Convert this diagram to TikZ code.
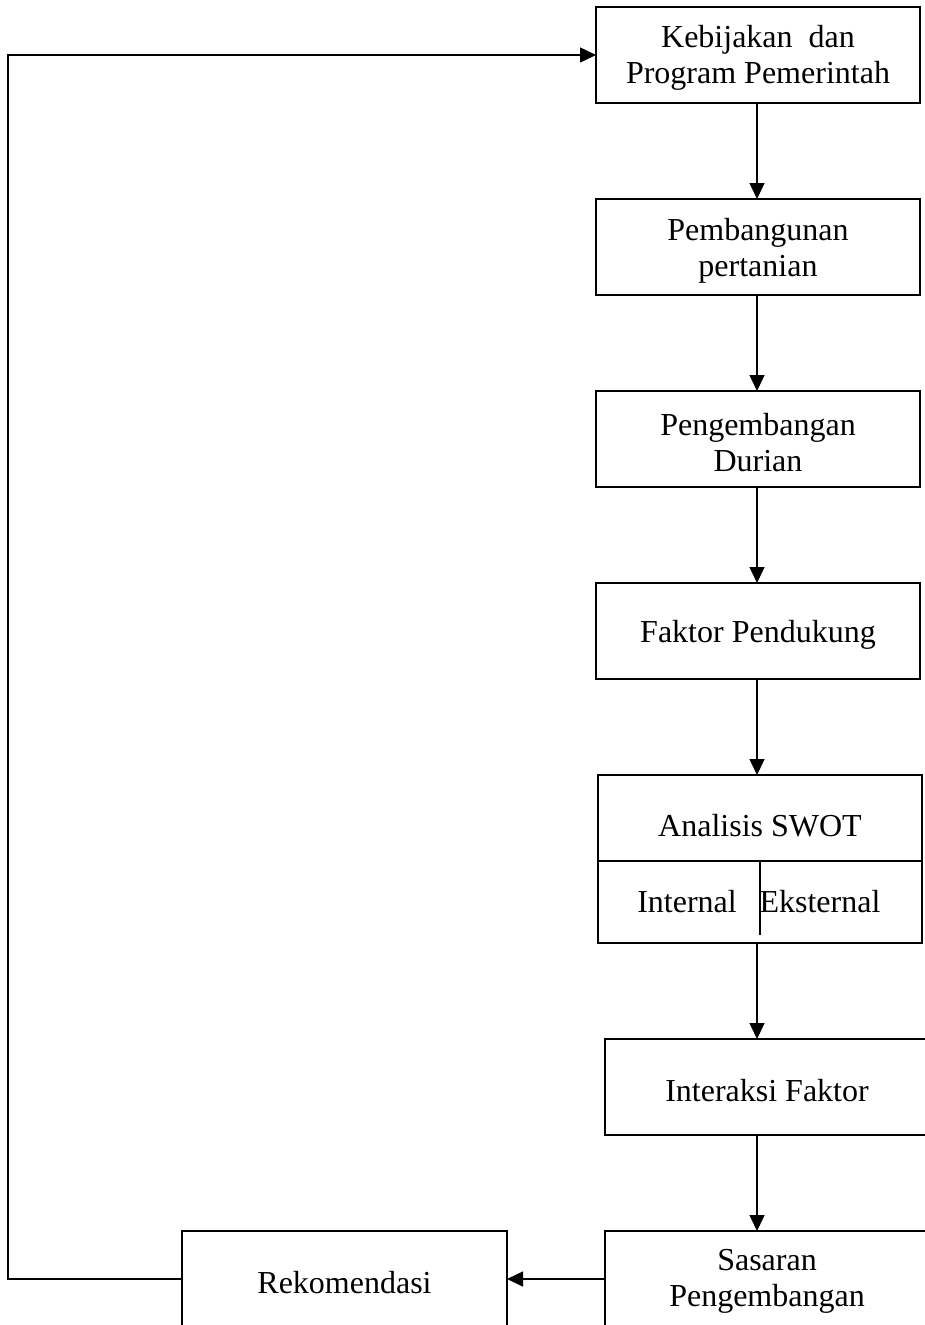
\documentclass[tikz,border=0pt]{standalone}
\usepackage{fontspec}
\setmainfont{Liberation Serif}
\usetikzlibrary{arrows.meta}
\begin{document}
\begin{tikzpicture}[x=1pt,y=-1pt,
  box/.style={draw,line width=1.5pt,minimum width=324pt,minimum height=96pt,inner sep=0pt,outer sep=0pt},
  conn/.style={line width=1.5pt,-{Triangle[length=16pt,width=15pt]}},
  plain/.style={line width=1.5pt},
  txt/.style={inner sep=0pt,align=center,font=\fontsize{32}{36}\selectfont}]
\useasboundingbox (0,0) rectangle (925,1325);
\node[box,label={[txt,yshift=-3pt]center:{Kebijakan\ \ dan\\Program Pemerintah}}] (b1) at (758,55) {};
\node[box,label={[txt,yshift=-4pt]center:{Pembangunan\\pertanian}}] (b2) at (758,247) {};
\node[box,label={[txt,yshift=-4pt]center:{Pengembangan\\Durian}}] (b3) at (758,439) {};
\node[box,label={[txt,yshift=-4pt]center:{Faktor Pendukung}}] (b4) at (758,631) {};
\node[box,minimum height=168pt] (b5) at (760,859) {};
\node[txt] (swot) at (760,826) {Analisis SWOT};
\coordinate (dl) at (598,861);
\coordinate (dr) at (922,861);
\draw[plain] (dl) -- (dr);
\coordinate (vt) at (760,861);
\coordinate (vb) at (760,935);
\draw[plain] (vt) -- (vb);
\node[txt] (int) at (687,902) {Internal};
\node[txt] (eks) at (820,902) {Eksternal};
\node[box,label={[txt,yshift=-4pt]center:{Interaksi Faktor}}] (b6) at (767,1087) {};
\node[box,label={[txt,yshift=-2pt]center:{Sasaran\\Pengembangan}}] (b7) at (767,1279) {};
\node[box,minimum width=325pt,label={[txt,yshift=-4pt]center:{Rekomendasi}}] (rek) at (344.5,1279) {};
\draw[conn] (b1.south -| 757,0) -- (b2.north -| 757,0);
\draw[conn] (b2.south -| 757,0) -- (b3.north -| 757,0);
\draw[conn] (b3.south -| 757,0) -- (b4.north -| 757,0);
\draw[conn] (b4.south -| 757,0) -- (b5.north -| 757,0);
\draw[conn] (b5.south -| 757,0) -- (b6.north -| 757,0);
\draw[conn] (b6.south -| 757,0) -- (b7.north -| 757,0);
\draw[conn] (b7.west) -- (rek.east);
\coordinate (lb) at (8,1279);
\coordinate (lt) at (8,55);
\draw[conn] (rek.west) -- (lb) -- (lt) -- (b1.west);
\end{tikzpicture}
\end{document}
